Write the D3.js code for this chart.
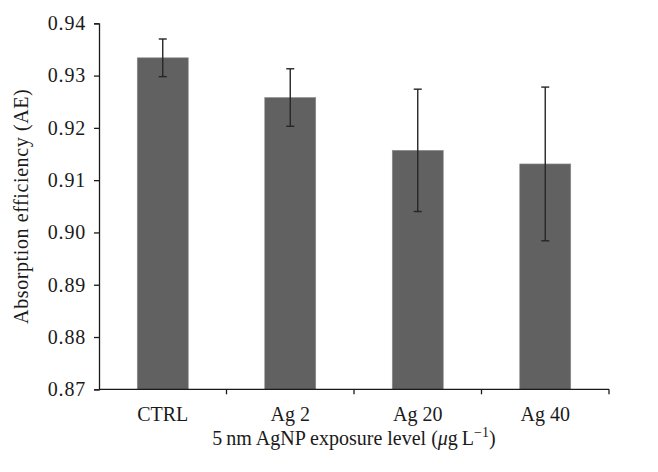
<!DOCTYPE html>
<html>
<head>
<meta charset="utf-8">
<script src="https://cdn.jsdelivr.net/npm/d3@7"></script>
<style>
  html, body { margin: 0; padding: 0; background: #fff; }
  svg { display: block; }
  text { font-family: "Liberation Serif", "DejaVu Serif", serif; fill: #1a1a1a; }
</style>
</head>
<body>
<svg id="chart" width="658" height="472"></svg>
<script>
const categories = ["CTRL", "Ag 2", "Ag 20", "Ag 40"];
const means = [0.9334, 0.9258, 0.9157, 0.9131];
const errors = [0.0036, 0.0055, 0.0117, 0.0147];
const yTicks = [0.87, 0.88, 0.89, 0.90, 0.91, 0.92, 0.93, 0.94];

const svg = d3.select("#chart");
const margin = { left: 99, right: 49, top: 23.3, bottom: 82.7 };
const W = 658, H = 472;

const x = d3.scaleBand().domain(categories)
  .range([margin.left, W - margin.right])
  .paddingInner(0.6).paddingOuter(0.3);
const y = d3.scaleLinear().domain([0.87, 0.94])
  .range([H - margin.bottom, margin.top]);

// bars
svg.append("g").selectAll("rect").data(categories).join("rect")
  .attr("x", d => x(d))
  .attr("width", x.bandwidth())
  .attr("y", (d, i) => y(means[i]))
  .attr("height", (d, i) => y(0.87) - y(means[i]))
  .attr("fill", "#616161")
  .attr("stroke", "#8c8c8c")
  .attr("stroke-width", 0.6);

// error bars
const eg = svg.append("g").attr("stroke", "#262626").attr("stroke-width", 1.4);
categories.forEach((c, i) => {
  const cx = x(c) + x.bandwidth() / 2;
  const yt = y(means[i] + errors[i]), yb = y(means[i] - errors[i]);
  eg.append("line").attr("x1", cx).attr("x2", cx).attr("y1", yt).attr("y2", yb);
  eg.append("line").attr("x1", cx - 4).attr("x2", cx + 4).attr("y1", yt).attr("y2", yt);
  eg.append("line").attr("x1", cx - 4).attr("x2", cx + 4).attr("y1", yb).attr("y2", yb);
});

// y axis
const yAxis = svg.append("g").attr("transform", `translate(${margin.left},0)`)
  .call(d3.axisLeft(y).tickValues(yTicks).tickFormat(d3.format(".2f")).tickSize(5).tickPadding(8));
yAxis.select(".domain").attr("stroke", "#1a1a1a").attr("stroke-width", 1.3);
yAxis.selectAll(".tick line").attr("stroke", "#1a1a1a").attr("stroke-width", 1.3);
yAxis.selectAll("text").attr("font-size", 20).attr("letter-spacing", 0.8)
  .attr("font-family", "Liberation Serif").attr("fill", "#1a1a1a");

// x axis (ticks at band boundaries)
const xAxisG = svg.append("g").attr("transform", `translate(0,${y(0.87)})`);
xAxisG.append("line").attr("x1", margin.left).attr("x2", W - margin.right)
  .attr("stroke", "#1a1a1a").attr("stroke-width", 1.3);
const step = x.step();
const boundaries = categories.map((c, i) => x(c) - x.paddingInner() * step / 2).slice(1)
  .concat([W - margin.right]);
xAxisG.selectAll("line.tk").data(boundaries).join("line").attr("class", "tk")
  .attr("x1", d => d).attr("x2", d => d).attr("y1", 0).attr("y2", 5)
  .attr("stroke", "#1a1a1a").attr("stroke-width", 1.3);
xAxisG.selectAll("text").data(categories).join("text")
  .attr("x", d => x(d) + x.bandwidth() / 2)
  .attr("y", 32)
  .attr("text-anchor", "middle")
  .attr("font-size", 20)
  .text(d => d);

// axis titles
svg.append("text")
  .attr("transform", `translate(28,${(y(0.87) + y(0.94)) / 2}) rotate(-90)`)
  .attr("text-anchor", "middle")
  .attr("font-size", 20)
  .attr("letter-spacing", 0.6)
  .text("Absorption efficiency (AE)");

const xt = svg.append("text")
  .attr("x", (margin.left + W - margin.right) / 2)
  .attr("y", 445)
  .attr("text-anchor", "middle")
  .attr("font-size", 20);
xt.append("tspan").text("5\u2009nm AgNP exposure level (");
xt.append("tspan").attr("font-style", "italic").text("\u03bc");
xt.append("tspan").text("g\u2009L");
xt.append("tspan").attr("font-size", 14).attr("dy", -8).text("\u22121");
xt.append("tspan").attr("dy", 8).text(")");
</script>
</body>
</html>
